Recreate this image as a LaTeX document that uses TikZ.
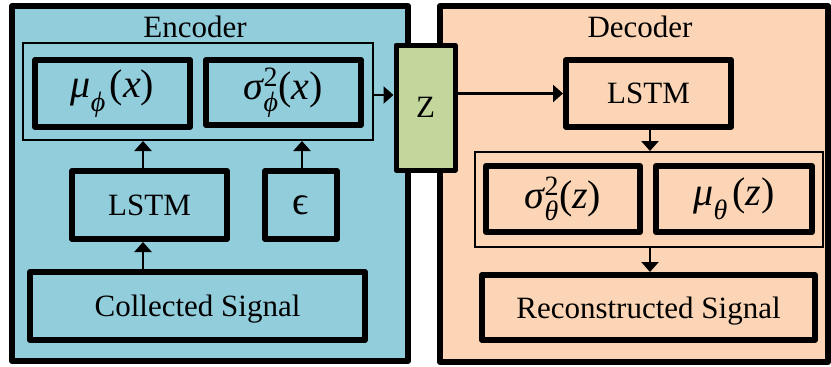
\documentclass[tikz,border=0pt]{standalone}
\usepackage{amsmath}
\usepackage{fontspec}
\setmainfont{Liberation Serif}
\usetikzlibrary{arrows.meta}

\definecolor{encfill}{HTML}{92CDDC}
\definecolor{decfill}{HTML}{FBD5B5}
\definecolor{zfill}{HTML}{C3D69B}

% italic Greek/Latin letters set in the text face
\newcommand{\gk}[1]{\text{\itshape #1}}
% lowered subscript and raised superscript letters
\newcommand{\lowsub}[1]{\text{\itshape\raisebox{-4pt}{#1}}}
\newcommand{\highsup}[1]{\text{\raisebox{2pt}{#1}}}

\begin{document}
\begin{tikzpicture}[x=1pt,y=-1pt,
  panel/.style={draw, line width=6pt, line join=round, inner sep=0pt},
  blockbox/.style={draw, line width=6pt, line join=round, inner sep=0pt,
    text depth=0pt, font=\fontsize{31}{36}\selectfont},
  mathbox/.style={draw, line width=6pt, line join=round, inner sep=0pt,
    font=\fontsize{40}{48}\selectfont},
  groupbox/.style={draw, line width=2pt, inner sep=0pt},
  title/.style={inner sep=0pt, font=\fontsize{31}{36}\selectfont},
  arr/.style={line width=2.5pt, -{Triangle[width=17pt,length=10pt]}},
]
\useasboundingbox (0,0) rectangle (831,367);

% panels
\node[panel, fill=encfill, minimum width=396, minimum height=355] (enc) at (210,183.5) {};
\node[panel, fill=decfill, minimum width=388, minimum height=356] (dec) at (634,184) {};
\node[title, anchor=base] (enctitle) at (195,37) {Encoder};
\node[title, anchor=base] (dectitle) at (640,37) {Decoder};

% encoder
\node[groupbox, minimum width=350, minimum height=97] (encgrp) at (198,91.5) {};
\node[mathbox, minimum width=155, minimum height=67] (mu) at (112.5,93.5)
  {$\gk{μ}_{\lowsub{ϕ}}\,\text{(}\gk{x}\text{)}$};
\node[mathbox, minimum width=155, minimum height=65] (sig) at (283.5,92.5)
  {$\gk{σ}^{\highsup{2}}_{\lowsub{ϕ}}\text{(}\gk{x}\text{)}$};
\node[blockbox, minimum width=155, minimum height=68] (lstmE) at (149.5,205) {LSTM};
\node[mathbox, minimum width=72, minimum height=68] (eps) at (301,205) {ϵ};
\node[blockbox, minimum width=335, minimum height=68] (coll) at (197.5,306) {Collected Signal};

% latent code
\node[draw, line width=5pt, line join=round, fill=zfill, inner sep=0pt,
  minimum width=59, minimum height=125, font=\fontsize{31}{36}\selectfont] (Z) at (425.5,107.5) {Z};

% decoder
\node[blockbox, minimum width=165, minimum height=67] (lstmD) at (648.5,93.5) {LSTM};
\node[groupbox, minimum width=348, minimum height=95] (decgrp) at (649,199.5) {};
\node[mathbox, minimum width=154, minimum height=66] (sigD) at (563,199)
  {$\gk{σ}^{\highsup{2}}_{\lowsub{θ}}\text{(}\gk{z}\text{)}$};
\node[mathbox, minimum width=156, minimum height=66] (muD) at (734,199)
  {$\gk{μ}_{\lowsub{θ}}\,\text{(}\gk{z}\text{)}$};
\node[blockbox, minimum width=333, minimum height=65] (rec) at (648.5,307.5) {Reconstructed Signal};

% connectors
\draw[arr] ([xshift=-6.5pt]lstmE.south |- coll.north) -- ([xshift=-6.5pt]lstmE.south);
\draw[arr] ([xshift=-6.5pt]lstmE.north) -- ([xshift=-6.5pt]lstmE.north |- encgrp.south);
\draw[arr] ([xshift=1pt]eps.north) -- ([xshift=1pt]eps.north |- encgrp.south);
\draw[arr] ([yshift=-3.5pt]encgrp.east) -- ([yshift=-3.5pt]encgrp.east -| Z.west);
\draw[arr] (Z.east |- lstmD.west) -- (lstmD.west);
\draw[arr] ([xshift=1.5pt]lstmD.south) -- ([xshift=1.5pt]lstmD.south |- decgrp.north);
\draw[arr] ([xshift=1pt]decgrp.south) -- ([xshift=1pt]decgrp.south |- rec.north);
\end{tikzpicture}
\end{document}
